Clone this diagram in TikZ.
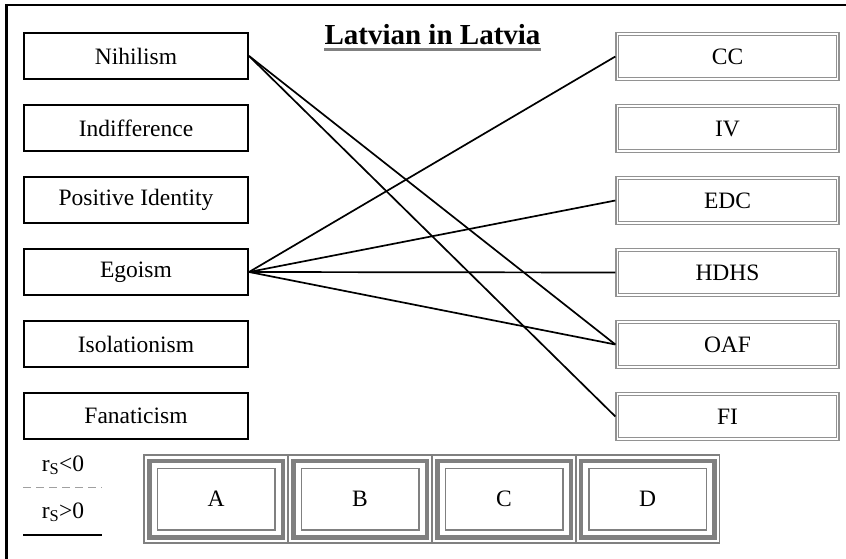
\documentclass[tikz,border=0pt]{standalone}
\usepackage{fontspec}
\setmainfont{Liberation Serif}
\definecolor{rgray}{HTML}{929292}
\definecolor{bgray}{HTML}{808080}
\definecolor{dgray}{HTML}{A0A0A0}
\begin{document}
\begin{tikzpicture}[x=1pt,y=-1pt,
  txt/.style={font=\fontsize{23.5}{28}\selectfont},
  lbox/.style={txt,draw=black,line width=1.6pt,minimum width=224.5pt,minimum height=46.5pt,inner sep=0pt},
  rbox/.style={txt,draw=rgray,double=white,line width=1.2pt,double distance=1.4pt,minimum width=220.5pt,minimum height=45pt,inner sep=0pt,outer sep=1.9pt},
  qbox/.style={txt,draw=bgray,line width=1.5pt,minimum width=144pt,minimum height=88pt,inner sep=0pt},
  conn/.style={draw=black,line width=1.7pt},
  frame/.style={draw=black,line width=2.5pt}
]
\useasboundingbox (0,0) rectangle (846,559);
% outer frame (only top and left edges visible)
\coordinate (f1) at (846,5);
\coordinate (f2) at (6.5,5);
\coordinate (f3) at (6.5,559);
\draw[frame] (f1) -- (f2) -- (f3);

% title
\node[font=\bfseries\fontsize{29}{34}\selectfont,anchor=base,inner sep=0pt] (title) at (432.5,45) {Latvian in Latvia};
\draw[bgray,line width=2.5pt] ([yshift=-4.5pt]title.base west) -- ([yshift=-4.5pt]title.base east);

% left boxes
\node[lbox] (nih) at (136,56) {Nihilism};
\node[lbox] (ind) at (136,128) {Indifference};
\node[lbox] (pos) at (136,200) {Positive Identity};
\node[lbox] (ego) at (136,272) {Egoism};
\node[lbox] (iso) at (136,344) {Isolationism};
\node[lbox] (fan) at (136,416) {Fanaticism};

% right boxes
\node[rbox] (cc) at (727.5,56.5) {CC};
\node[rbox] (iv) at (727.5,128.5) {IV};
\node[rbox] (edc) at (727.5,200.5) {EDC};
\node[rbox] (hdhs) at (727.5,272.5) {HDHS};
\node[rbox] (oaf) at (727.5,344.5) {OAF};
\node[rbox] (fi) at (727.5,416.5) {FI};

% connectors
\draw[conn] (nih.east) -- (oaf.west);
\draw[conn] (nih.east) -- (fi.west);
\draw[conn] (ego.east) -- (cc.west);
\draw[conn] (ego.east) -- (edc.west);
\draw[conn] (ego.east) -- (hdhs.west);
\draw[conn] (ego.east) -- (oaf.west);

% bottom boxes
\foreach \n/\t/\x in {qa/A/216, qb/B/360, qc/C/504, qd/D/647.5}{
  \node[qbox] (\n) at (\x,499) {\t};
  \draw[bgray,line width=4.5pt] ([xshift=6pt,yshift=-6.5pt]\n.north west) rectangle ([xshift=-6pt,yshift=6.5pt]\n.south east);
  \draw[bgray,line width=1.5pt] ([xshift=14pt,yshift=-14pt]\n.north west) rectangle ([xshift=-14pt,yshift=14pt]\n.south east);
}

% legend
\node[txt,anchor=base,inner sep=0pt] (legneg) at (63,471) {r\textsubscript{S}<0};
\coordinate (d1) at (23,487);
\coordinate (d2) at (102,487);
\draw[dgray,line width=1pt,dash pattern=on 8pt off 5pt] (d1) -- (d2);
\node[txt,anchor=base,inner sep=0pt] (legpos) at (63,518) {r\textsubscript{S}>0};
\coordinate (s1) at (23,535);
\coordinate (s2) at (102,535);
\draw[black,line width=1.5pt] (s1) -- (s2);
\end{tikzpicture}
\end{document}
